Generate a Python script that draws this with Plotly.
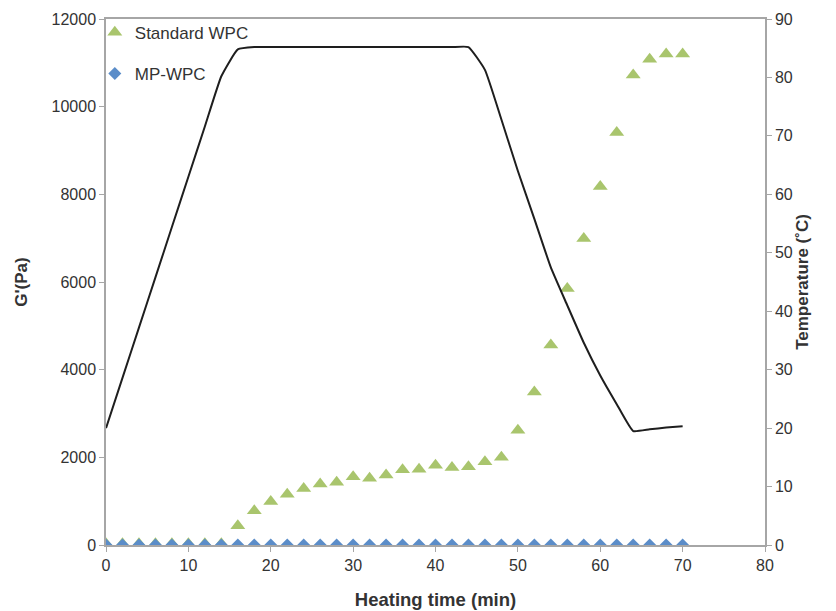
import plotly.graph_objects as go

time_min = [0, 2, 4, 6, 8, 10, 12, 14, 16, 18, 20, 22, 24, 26, 28, 30, 32, 34,
            36, 38, 40, 42, 44, 46, 48, 50, 52, 54, 56, 58, 60, 62, 64, 66, 68, 70]

standard_wpc = [30, 30, 30, 30, 30, 30, 30, 30, 440, 780, 990, 1160, 1290, 1390,
                1430, 1555, 1520, 1595, 1715, 1730, 1820, 1770, 1785, 1900, 2000,
                2620, 3490, 4560, 5850, 6990, 8180, 9410, 10720, 11080, 11200, 11200]

mp_wpc = [0] * len(time_min)

temperature = [20, 28.6, 37.2, 45.8, 54.4, 63, 71.6, 80.2, 84.8, 85.2, 85.2, 85.2,
               85.2, 85.2, 85.2, 85.2, 85.2, 85.2, 85.2, 85.2, 85.2, 85.2, 85.2,
               81.3, 72.8, 64, 55.8, 47.5, 41, 34.6, 29, 24.1, 19.5, 19.8, 20.1, 20.3]

g_ticks = [0, 2000, 4000, 6000, 8000, 10000, 12000]
t_ticks = [0, 10, 20, 30, 40, 50, 60, 70, 80, 90]
x_ticks = [0, 10, 20, 30, 40, 50, 60, 70, 80]

FONT = "Liberation Sans, Arial, sans-serif"
TXT = "#333333"
AX = "#a6a6a6"

fig = go.Figure()
fig.add_trace(go.Scatter(
    x=time_min, y=standard_wpc, name="Standard WPC", mode="markers",
    marker=dict(symbol="triangle-up", size=13, color="#a9c56d"),
    legendgroup="a"))
fig.add_trace(go.Scatter(
    x=time_min, y=mp_wpc, name="MP-WPC", mode="markers",
    marker=dict(symbol="diamond", size=10, color="#5b8dc9"),
    legendgroup="b"))
fig.add_trace(go.Scatter(
    x=time_min, y=temperature, name="Temperature", mode="lines",
    line=dict(color="#1e1e1e", width=2, shape="spline", smoothing=0.4),
    yaxis="y2", showlegend=False))

fig.update_layout(
    width=828, height=603,
    margin=dict(l=98, r=71, t=11, b=66, autoexpand=False),
    paper_bgcolor="white", plot_bgcolor="white",
    font=dict(family=FONT, size=16, color=TXT),
    showlegend=True,
    legend=dict(x=-0.017, y=1.008, xanchor="left", yanchor="top",
                bgcolor="rgba(0,0,0,0)", font=dict(size=17, color=TXT),
                tracegroupgap=16, itemwidth=30),
    xaxis=dict(range=[0, 80], tickvals=x_ticks, ticktext=[str(v) for v in x_ticks],
               showgrid=False, zeroline=False, showline=True, linecolor=AX,
               linewidth=1.5, mirror=True, ticks="outside", ticklen=5,
               tickcolor=AX, automargin=False,
               title=dict(text="<b>Heating time (min)</b>", standoff=20,
                          font=dict(size=18.5, color=TXT))),
    yaxis=dict(range=[0, 12000], tickvals=g_ticks, ticktext=[str(v) for v in g_ticks],
               showgrid=False, zeroline=False, showline=True, linecolor=AX,
               linewidth=1.5, ticks="outside", ticklen=5, tickcolor=AX,
               automargin=False,
               title=dict(text="<b>G'(Pa)</b>", standoff=20,
                          font=dict(size=17, color=TXT))),
    yaxis2=dict(range=[0, 90], tickvals=t_ticks, ticktext=[str(v) for v in t_ticks],
                overlaying="y", side="right", showgrid=False, zeroline=False,
                showline=True, linecolor=AX, linewidth=1.5, ticks="outside",
                ticklen=5, tickcolor=AX, automargin=False,
                title=dict(text="<b>Temperature (˚C)</b>", standoff=0,
                           font=dict(size=17, color=TXT))),
)

fig.write_html("out.html")
